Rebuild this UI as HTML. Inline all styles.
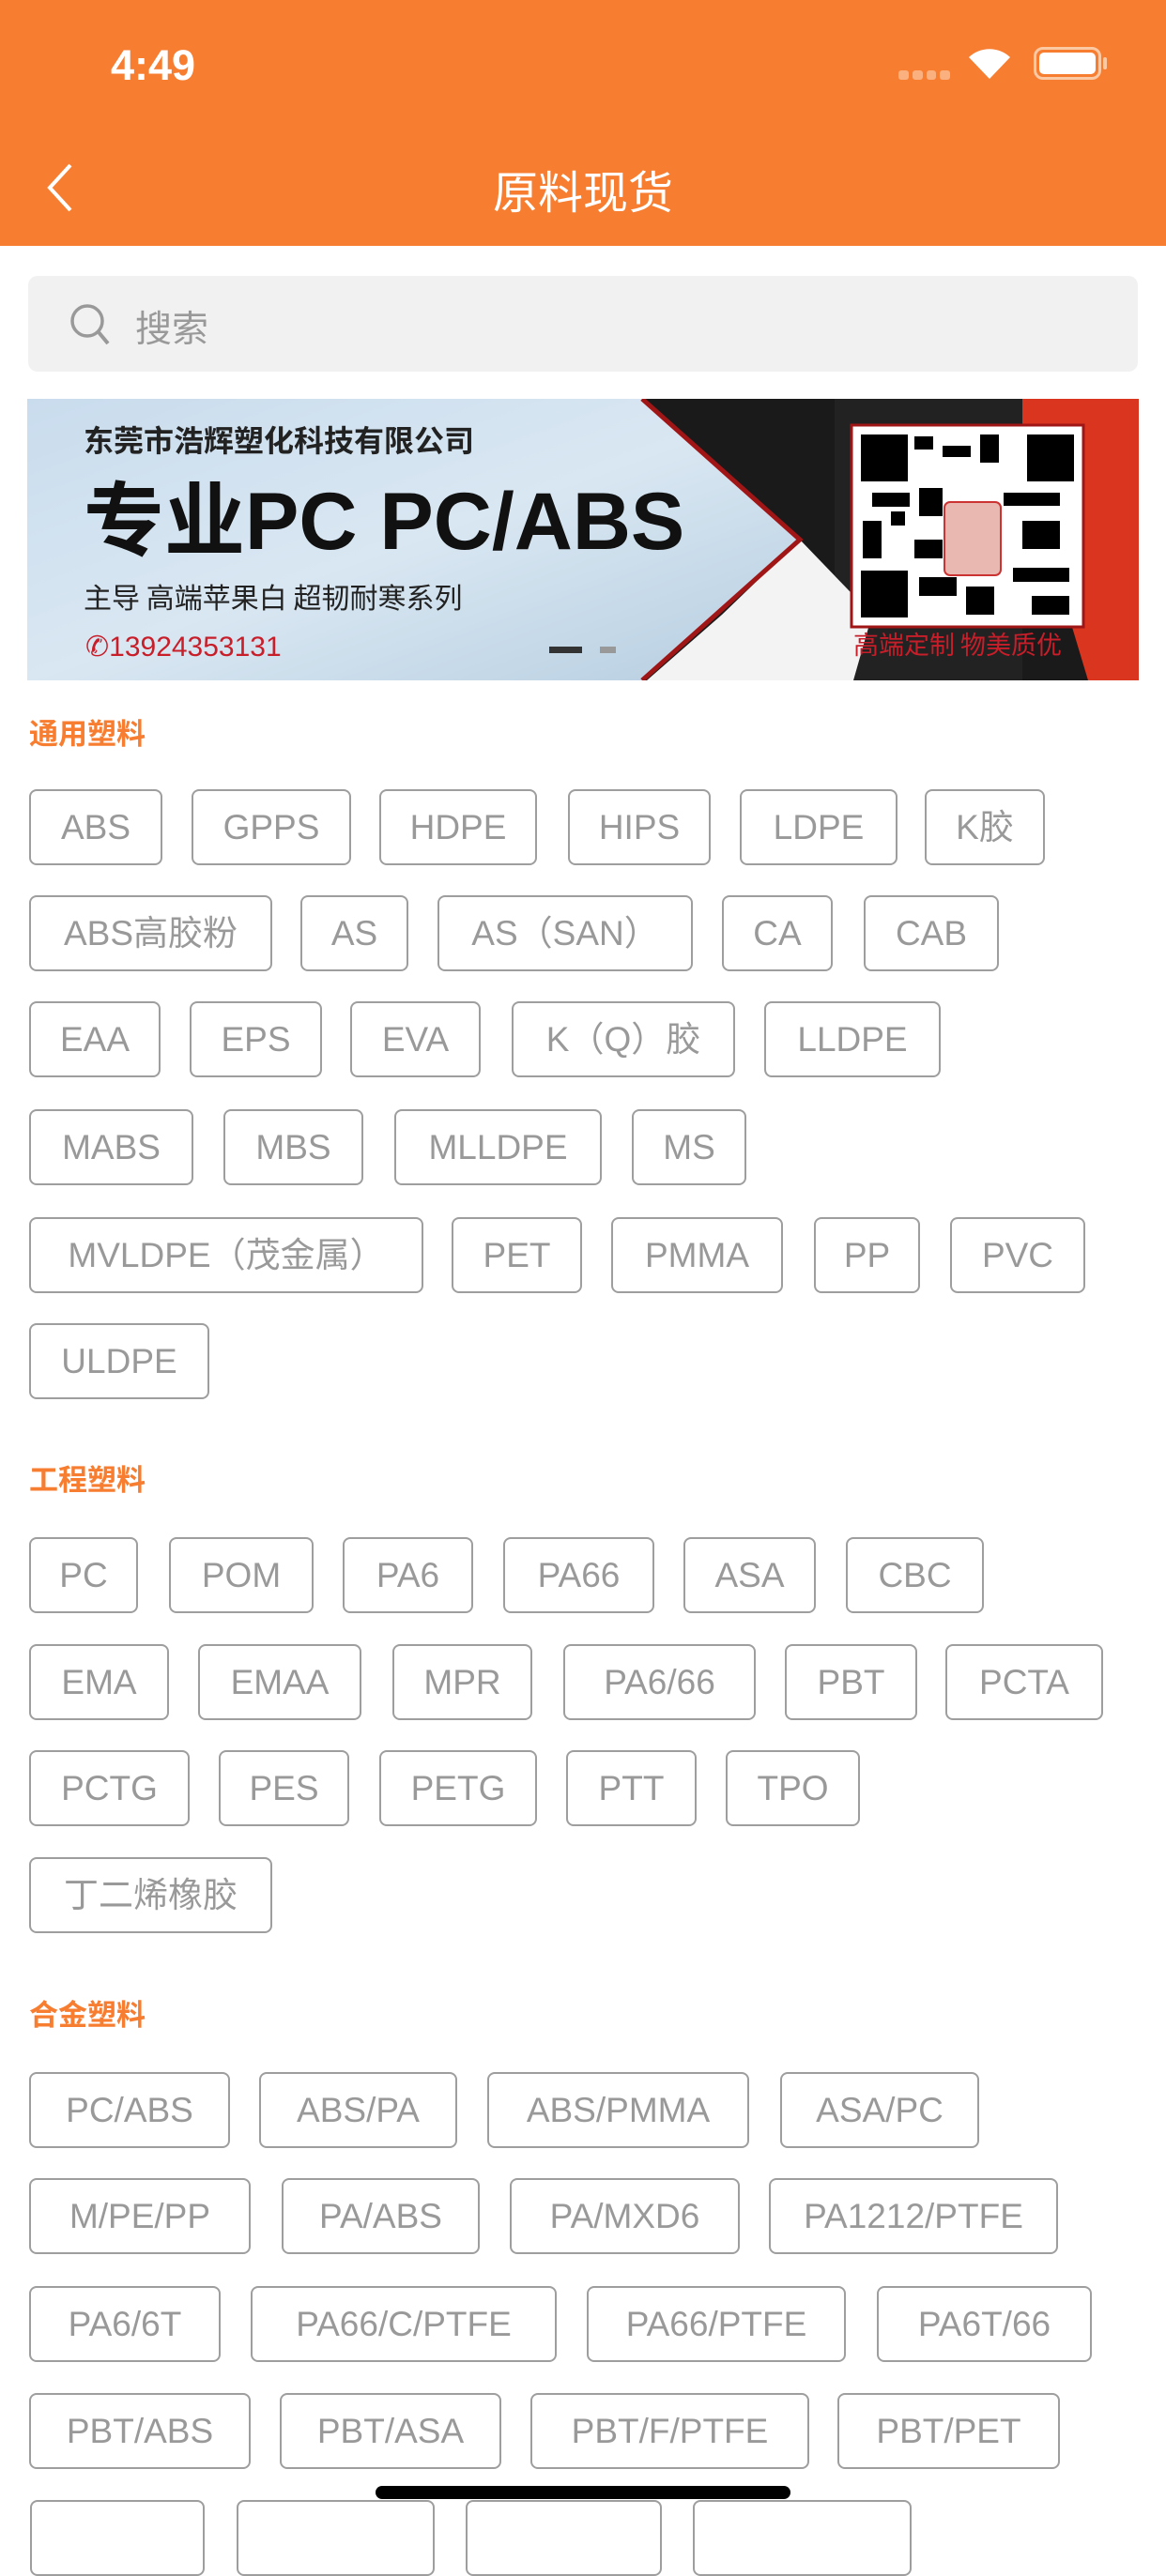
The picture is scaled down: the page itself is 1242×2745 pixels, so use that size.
<!DOCTYPE html>
<html><head><meta charset="utf-8">
<style>
*{margin:0;padding:0;box-sizing:border-box}
body{width:1242px;height:2688px;position:relative;overflow:hidden;background:#fff;font-family:"Liberation Sans","Noto Sans CJK SC",sans-serif}
.nav{position:absolute;left:0;top:0;width:1242px;height:262px;background:#f77d30}
.t{position:absolute;height:81px;border:2px solid #9e9e9e;border-radius:8px;color:#999;font-size:37px;line-height:1;display:flex;align-items:center;justify-content:center;white-space:nowrap}
.t span{display:block;line-height:1}
.h{position:absolute;left:31px;color:#f77d30;font-size:31px;font-weight:bold;line-height:34px}
</style></head><body>
<div class="nav">
<div style="position:absolute;left:118px;top:44px;font-size:45px;font-weight:bold;color:#fff">4:49</div>
<div style="position:absolute;left:957px;top:75px;width:55px;height:10px;display:flex;gap:4px"><span style="flex:1;background:#fbb07f;border-radius:3px"></span><span style="flex:1;background:#fbb07f;border-radius:3px"></span><span style="flex:1;background:#fbb07f;border-radius:3px"></span><span style="flex:1;background:#fbb07f;border-radius:3px"></span></div>
<svg style="position:absolute;left:1030px;top:48px" width="48" height="38" viewBox="0 0 48 38"><path d="M24 36 L2 13 A32 32 0 0 1 46 13 Z" fill="#fff"/></svg>
<div style="position:absolute;left:1101px;top:50px;width:72px;height:35px;border:3px solid #fcc9a5;border-radius:10px;padding:3px"><div style="width:100%;height:100%;background:#fff;border-radius:5px"></div></div>
<div style="position:absolute;left:1175px;top:61px;width:4px;height:13px;background:#fcc9a5;border-radius:2px"></div>
<svg style="position:absolute;left:46px;top:172px" width="36" height="56"><path d="M29 4 L7 28 L29 52" stroke="#fff" stroke-width="4" fill="none"/></svg>
<div style="position:absolute;left:0;width:1242px;top:166px;text-align:center;color:#fff;font-size:48px">原料现货</div>
</div>
<div style="position:absolute;left:30px;top:294px;width:1182px;height:102px;background:#f1f1f1;border-radius:10px"></div>
<svg style="position:absolute;left:73px;top:322px" width="48" height="50"><circle cx="20" cy="20" r="16" stroke="#999" stroke-width="3.5" fill="none"/><path d="M32 32 L42 44" stroke="#999" stroke-width="4"/></svg>
<div style="position:absolute;left:144px;top:320px;font-size:39px;color:#999">搜索</div>

<svg style="position:absolute;left:29px;top:425px" width="1184" height="300" viewBox="0 0 1184 300">
<defs><linearGradient id="ice" x1="0" y1="0" x2="1" y2="1"><stop offset="0" stop-color="#c9dced"/><stop offset="0.5" stop-color="#d9e7f2"/><stop offset="1" stop-color="#b5cde0"/></linearGradient></defs>
<rect width="1184" height="300" fill="#1a1a1a"/>
<polygon points="860,0 1184,0 1184,300 1130,300 1100,200 1060,100 860,80" fill="#d9351f"/>
<polygon points="860,0 1060,0 1060,300 860,300" fill="#222"/>
<polygon points="823,150 740,230 660,300 880,300 900,230" fill="#f3f3f3"/>
<polygon points="0,0 655,0 823,150 655,300 0,300" fill="url(#ice)"/>
<polyline points="655,0 823,150 655,300" stroke="#a01515" stroke-width="5" fill="none"/>
<rect x="878" y="28" width="247" height="215" fill="#fff" stroke="#a01515" stroke-width="3"/>
<g fill="#000">
<rect x="888" y="38" width="50" height="50"/><rect x="1065" y="38" width="50" height="50"/><rect x="888" y="183" width="50" height="50"/>
<rect x="945" y="40" width="20" height="14"/><rect x="975" y="50" width="30" height="12"/><rect x="1015" y="38" width="20" height="30"/>
<rect x="900" y="100" width="40" height="15"/><rect x="950" y="95" width="25" height="30"/><rect x="1040" y="100" width="60" height="14"/>
<rect x="890" y="130" width="20" height="40"/><rect x="1060" y="130" width="40" height="30"/><rect x="950" y="190" width="40" height="20"/>
<rect x="1000" y="200" width="30" height="30"/><rect x="1050" y="180" width="60" height="15"/><rect x="1070" y="210" width="40" height="20"/>
<rect x="945" y="150" width="30" height="20"/><rect x="920" y="120" width="15" height="15"/>
</g>
<rect x="977" y="110" width="60" height="78" rx="6" fill="#e9b8b0" stroke="#c33" stroke-width="2"/>
<text x="60" y="56" font-size="32" font-weight="bold" fill="#222" font-family="Noto Sans CJK SC,sans-serif">东莞市浩辉塑化科技有限公司</text>
<text x="60" y="160" font-size="86" font-weight="bold" fill="#111" font-family="Liberation Sans,Noto Sans CJK SC,sans-serif">专业PC PC/ABS</text>
<text x="60" y="223" font-size="30" fill="#222" font-family="Noto Sans CJK SC,sans-serif">主导 高端苹果白 超韧耐寒系列</text>
<text x="62" y="274" font-size="30" fill="#c81e2a" font-family="Liberation Sans,sans-serif">✆13924353131</text>
<text x="880" y="272" font-size="27" fill="#c81e2a" font-family="Noto Sans CJK SC,sans-serif">高端定制 物美质优</text>
<rect x="556" y="264" width="35" height="7" fill="#333"/><rect x="610" y="264" width="17" height="7" fill="#999"/>
</svg>

<div class="h" style="top:766px">通用塑料</div>
<div class="t" style="top:841px;left:31px;width:142px">ABS</div>
<div class="t" style="top:841px;left:204px;width:170px">GPPS</div>
<div class="t" style="top:841px;left:404px;width:168px">HDPE</div>
<div class="t" style="top:841px;left:605px;width:152px">HIPS</div>
<div class="t" style="top:841px;left:788px;width:168px">LDPE</div>
<div class="t" style="top:841px;left:985px;width:128px"><span>K胶</span></div>
<div class="t" style="top:954px;left:31px;width:259px"><span>ABS高胶粉</span></div>
<div class="t" style="top:954px;left:320px;width:115px">AS</div>
<div class="t" style="top:954px;left:466px;width:272px"><span>AS（SAN）</span></div>
<div class="t" style="top:954px;left:769px;width:118px">CA</div>
<div class="t" style="top:954px;left:920px;width:144px">CAB</div>
<div class="t" style="top:1067px;left:31px;width:140px">EAA</div>
<div class="t" style="top:1067px;left:202px;width:141px">EPS</div>
<div class="t" style="top:1067px;left:373px;width:139px">EVA</div>
<div class="t" style="top:1067px;left:545px;width:238px"><span>K（Q）胶</span></div>
<div class="t" style="top:1067px;left:814px;width:188px">LLDPE</div>
<div class="t" style="top:1182px;left:31px;width:175px">MABS</div>
<div class="t" style="top:1182px;left:238px;width:149px">MBS</div>
<div class="t" style="top:1182px;left:420px;width:221px">MLLDPE</div>
<div class="t" style="top:1182px;left:673px;width:122px">MS</div>
<div class="t" style="top:1297px;left:31px;width:420px"><span>MVLDPE（茂金属）</span></div>
<div class="t" style="top:1297px;left:481px;width:139px">PET</div>
<div class="t" style="top:1297px;left:651px;width:183px">PMMA</div>
<div class="t" style="top:1297px;left:867px;width:113px">PP</div>
<div class="t" style="top:1297px;left:1012px;width:144px">PVC</div>
<div class="t" style="top:1410px;left:31px;width:192px">ULDPE</div>

<div class="h" style="top:1561px">工程塑料</div>
<div class="t" style="top:1638px;left:31px;width:116px">PC</div>
<div class="t" style="top:1638px;left:180px;width:154px">POM</div>
<div class="t" style="top:1638px;left:365px;width:139px">PA6</div>
<div class="t" style="top:1638px;left:536px;width:161px">PA66</div>
<div class="t" style="top:1638px;left:728px;width:141px">ASA</div>
<div class="t" style="top:1638px;left:901px;width:147px">CBC</div>
<div class="t" style="top:1752px;left:31px;width:149px">EMA</div>
<div class="t" style="top:1752px;left:211px;width:174px">EMAA</div>
<div class="t" style="top:1752px;left:418px;width:149px">MPR</div>
<div class="t" style="top:1752px;left:600px;width:205px">PA6/66</div>
<div class="t" style="top:1752px;left:836px;width:141px">PBT</div>
<div class="t" style="top:1752px;left:1007px;width:168px">PCTA</div>
<div class="t" style="top:1865px;left:31px;width:171px">PCTG</div>
<div class="t" style="top:1865px;left:233px;width:139px">PES</div>
<div class="t" style="top:1865px;left:404px;width:168px">PETG</div>
<div class="t" style="top:1865px;left:603px;width:139px">PTT</div>
<div class="t" style="top:1865px;left:773px;width:143px">TPO</div>
<div class="t" style="top:1979px;left:31px;width:259px"><span>丁二烯橡胶</span></div>

<div class="h" style="top:2131px">合金塑料</div>
<div class="t" style="top:2208px;left:31px;width:214px">PC/ABS</div>
<div class="t" style="top:2208px;left:276px;width:211px">ABS/PA</div>
<div class="t" style="top:2208px;left:519px;width:279px">ABS/PMMA</div>
<div class="t" style="top:2208px;left:831px;width:212px">ASA/PC</div>
<div class="t" style="top:2321px;left:31px;width:236px">M/PE/PP</div>
<div class="t" style="top:2321px;left:300px;width:211px">PA/ABS</div>
<div class="t" style="top:2321px;left:543px;width:245px">PA/MXD6</div>
<div class="t" style="top:2321px;left:819px;width:308px">PA1212/PTFE</div>
<div class="t" style="top:2436px;left:31px;width:204px">PA6/6T</div>
<div class="t" style="top:2436px;left:267px;width:326px">PA66/C/PTFE</div>
<div class="t" style="top:2436px;left:625px;width:276px">PA66/PTFE</div>
<div class="t" style="top:2436px;left:934px;width:229px">PA6T/66</div>
<div class="t" style="top:2550px;left:31px;width:236px">PBT/ABS</div>
<div class="t" style="top:2550px;left:298px;width:236px">PBT/ASA</div>
<div class="t" style="top:2550px;left:565px;width:297px">PBT/F/PTFE</div>
<div class="t" style="top:2550px;left:892px;width:237px">PBT/PET</div>
<div class="t" style="top:2664px;left:32px;width:186px"></div>
<div class="t" style="top:2664px;left:252px;width:211px"></div>
<div class="t" style="top:2664px;left:496px;width:209px"></div>
<div class="t" style="top:2664px;left:738px;width:233px"></div>
<div style="position:absolute;left:400px;top:2649px;width:442px;height:14px;background:#000;border-radius:7px"></div>
</body></html>
